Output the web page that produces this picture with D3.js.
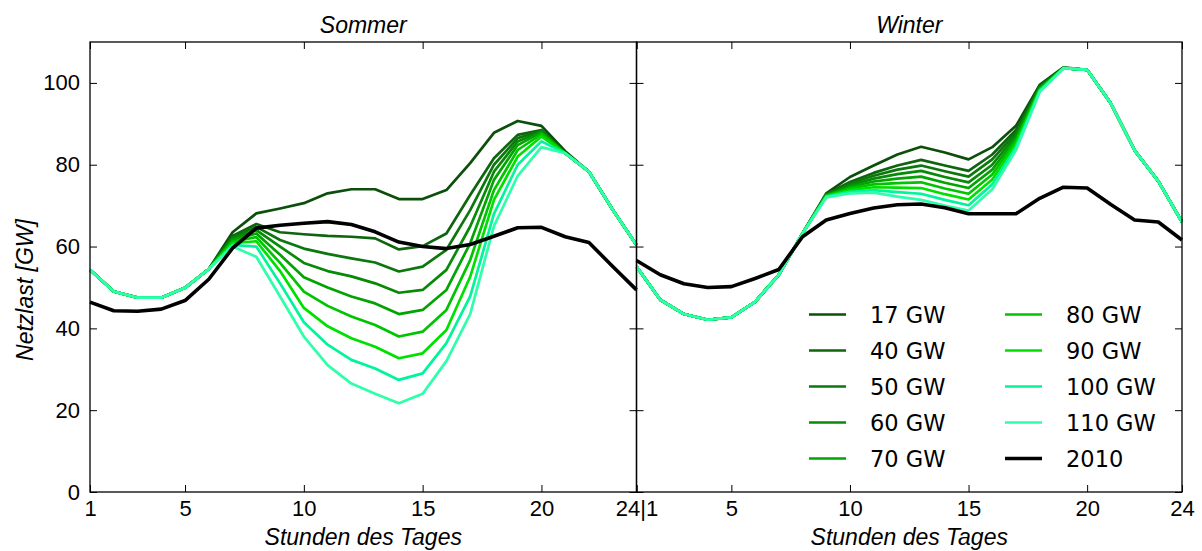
<!DOCTYPE html>
<html>
<head>
<meta charset="utf-8">
<script src="https://cdn.jsdelivr.net/npm/d3@7"></script>
<style>
  body { margin: 0; background: #fff; }
  svg { display: block; }
</style>
</head>
<body>
<div id="chart"></div>
<script>
// hours of the day
var hours = [1,2,3,4,5,6,7,8,9,10,11,12,13,14,15,16,17,18,19,20,21,22,23,24];
var xTicks = [1, 5, 10, 15, 20, 24];
var yTicks = [0, 20, 40, 60, 80, 100];

var seriesNames = ["17 GW", "40 GW", "50 GW", "60 GW", "70 GW", "80 GW", "90 GW", "100 GW", "110 GW"];
var seriesColors = ["#0b4f0b", "#0e650e", "#0c770c", "#078a07", "#03a303", "#00c400", "#00e000", "#00f59b", "#2dffaa"];

// Sommer
var sommer17  = [54.3,49,47.5,47.5,49.9,54.5,63.5,68.1,69.3,70.6,73,74,74,71.6,71.6,73.8,80.4,87.8,90.7,89.5,83.3,78.3,69,60.4];
var sommer40  = [54.3,49,47.5,47.5,49.9,54.5,62.6,65.5,63.5,63,62.6,62.4,62,59.3,60.1,63.2,72.6,81.6,87.3,88.5,82.8,78.3,69,60.4];
var sommer50  = [54.3,49,47.5,47.5,49.9,54.5,62.3,64.8,61.6,59.5,58.2,57.1,56.1,53.9,55.1,59.2,68.9,80,86.5,88.3,82.8,78.3,69,60.4];
var sommer60  = [54.3,49,47.5,47.5,49.9,54.5,62,64,60,56,54,52.7,51,48.7,49.4,54.3,64.9,78.3,85.7,88.1,82.8,78.3,69,60.4];
var sommer70  = [54.3,49,47.5,47.5,49.9,54.5,61.6,63.2,58,52.5,50,47.8,46.1,43.5,44.5,49.4,60.8,76.3,84.8,87.9,82.8,78.3,69,60.4];
var sommer80  = [54.3,49,47.5,47.5,49.9,54.5,61.2,62.3,56,49,45.5,42.9,40.8,38,39.2,44.5,56.7,73.8,83.6,87.5,82.8,78.3,69,60.4];
var sommer90  = [54.3,49,47.5,47.5,49.9,54.5,60.8,61.3,54,45,40.5,37.6,35.5,32.7,33.9,39.6,52.6,71.4,82,86.9,82.8,78.3,69,60.4];
var sommer100 = [54.3,49,47.5,47.5,49.9,54.5,60.4,60,51,41.5,36,32.3,30.2,27.4,29,36.4,47.8,68,80,85.7,82.8,78.3,69,60.4];
var sommer110 = [54.3,49,47.5,47.5,49.9,54.5,60,57.5,47.8,38,31,26.5,24,21.7,24,32,43.5,65,77.3,84.3,82.8,78.3,69,60.4];
var sommer2010 = [46.4,44.3,44.2,44.7,46.8,52,59.6,64.5,65.2,65.7,66.1,65.4,63.6,61.1,60,59.5,60.5,62.5,64.6,64.7,62.4,61,55.1,49.4];

// Winter
var winter17  = [55.1,47,43.5,42.1,42.7,46.5,53.1,63.2,73,77,79.8,82.5,84.4,83,81.3,84.3,89.5,99.5,103.8,103.2,95,83.5,76,66];
var winter40  = [55.1,47,43.5,42.1,42.7,46.5,53.1,63.2,72.8,75.8,78,79.8,81.2,79.8,78.5,82.5,88.5,99.2,103.6,103.2,95,83.5,76,66];
var winter50  = [55.1,47,43.5,42.1,42.7,46.5,53.1,63.2,72.7,75.4,77.3,78.8,79.8,78.4,77.1,81.3,87.8,99,103.6,103.2,95,83.5,76,66];
var winter60  = [55.1,47,43.5,42.1,42.7,46.5,53.1,63.2,72.6,75,76.6,77.7,78.5,77,75.7,80,87.1,98.8,103.6,103.2,95,83.5,76,66];
var winter70  = [55.1,47,43.5,42.1,42.7,46.5,53.1,63.2,72.5,74.6,75.9,76.6,77.1,75.6,74.3,78.8,86.4,98.6,103.6,103.2,95,83.5,76,66];
var winter80  = [55.1,47,43.5,42.1,42.7,46.5,53.1,63.2,72.4,74.2,75.2,75.5,75.7,74.2,72.9,77.6,85.7,98.4,103.6,103.2,95,83.5,76,66];
var winter90  = [55.1,47,43.5,42.1,42.7,46.5,53.1,63.2,72.3,73.8,74.5,74.4,74.3,72.8,71.5,76.4,85,98.2,103.6,103.2,95,83.5,76,66];
var winter100 = [55.1,47,43.5,42.1,42.7,46.5,53.1,63.2,72.2,73.4,73.8,73.3,72.9,71.4,70.1,75.2,84.3,98,103.6,103.2,95,83.5,76,66];
var winter110 = [55.1,47,43.5,42.1,42.7,46.5,53.1,63.2,72,73,73.2,72.2,71.4,70,68.8,74,83.6,97.8,103.6,103.2,95,83.5,76,66];
var winter2010 = [56.6,53.1,50.9,50,50.2,52.2,54.4,62.4,66.5,68.1,69.4,70.2,70.4,69.5,68,68,68,71.8,74.5,74.3,70.3,66.5,66,61.6];

var sommerSeries = [sommer17, sommer40, sommer50, sommer60, sommer70, sommer80, sommer90, sommer100, sommer110];
var winterSeries = [winter17, winter40, winter50, winter60, winter70, winter80, winter90, winter100, winter110];

var width = 1202, height = 551;
var top_y = 42, bottom_y = 492;
var tickLen = 7;
var tickFont = '"Liberation Sans Narrow", "Liberation Sans", Arial, sans-serif';
var labelFont = '"Liberation Sans", Arial, sans-serif';

var svg = d3.select("#chart").append("svg")
    .attr("width", width)
    .attr("height", height)
    .style("background", "#fff");

var yScale = d3.scaleLinear().domain([0, 110]).range([bottom_y, top_y]);

function drawPanel(x0, x1, title, greens, black, firstPanel)
{
    var xScale = d3.scaleLinear().domain([1, 24]).range([x0, x1]);
    var g = svg.append("g");

    var line = d3.line()
        .x(function(d, i) { return xScale(hours[i]); })
        .y(function(d) { return yScale(d); });

    greens.forEach(function(s, i) {
        g.append("path")
            .attr("d", line(s))
            .attr("fill", "none")
            .attr("stroke", seriesColors[i])
            .attr("stroke-width", 2.7)
            .attr("stroke-linejoin", "round");
    });
    g.append("path")
        .attr("d", line(black))
        .attr("fill", "none")
        .attr("stroke", "#000")
        .attr("stroke-width", 3.6)
        .attr("stroke-linejoin", "round");

    // axes with inward ticks
    var xBottom = d3.axisBottom(xScale).tickValues(xTicks)
        .tickSizeInner(-tickLen).tickSizeOuter(0).tickPadding(8)
        .tickFormat(function(d) {
            if (firstPanel) return d === 24 ? "" : d;
            return d === 1 ? "24|1" : d;
        });
    var xTop = d3.axisTop(xScale).tickValues(xTicks)
        .tickSizeInner(-tickLen).tickSizeOuter(0).tickFormat("");
    var yLeft = d3.axisLeft(yScale).tickValues(yTicks)
        .tickSizeInner(-tickLen).tickSizeOuter(0).tickPadding(10)
        .tickFormat(firstPanel ? d3.format("d") : "");
    var yRight = d3.axisRight(yScale).tickValues(yTicks)
        .tickSizeInner(-tickLen).tickSizeOuter(0).tickFormat("");

    var axes = [
        g.append("g").attr("transform", "translate(0," + bottom_y + ")").call(xBottom),
        g.append("g").attr("transform", "translate(0," + top_y + ")").call(xTop),
        g.append("g").attr("transform", "translate(" + x0 + ",0)").call(yLeft),
        g.append("g").attr("transform", "translate(" + x1 + ",0)").call(yRight)
    ];
    axes.forEach(function(a) {
        a.select(".domain").remove();
        a.selectAll(".tick line").attr("stroke", "#000").attr("stroke-width", 1);
        a.selectAll("text")
            .attr("fill", "#000")
            .style("font-family", tickFont)
            .style("font-size", "22px");
    });

    g.append("rect")
        .attr("x", x0).attr("y", top_y)
        .attr("width", x1 - x0).attr("height", bottom_y - top_y)
        .attr("fill", "none")
        .attr("stroke", "#000")
        .attr("stroke-width", 1.3);

    g.append("text")
        .attr("x", (x0 + x1) / 2).attr("y", 33)
        .attr("text-anchor", "middle")
        .style("font-family", labelFont)
        .style("font-style", "italic")
        .style("font-size", "23px")
        .text(title);

    g.append("text")
        .attr("x", (x0 + x1) / 2).attr("y", 545)
        .attr("text-anchor", "middle")
        .style("font-family", labelFont)
        .style("font-style", "italic")
        .style("font-size", "23px")
        .text("Stunden des Tages");
}

drawPanel(90, 636.5, "Sommer", sommerSeries, sommer2010, true);
drawPanel(636.5, 1182, "Winter", winterSeries, winter2010, false);

svg.append("text")
    .attr("transform", "translate(33,290) rotate(-90)")
    .attr("text-anchor", "middle")
    .style("font-family", labelFont)
    .style("font-style", "italic")
    .style("font-size", "23px")
    .text("Netzlast [GW]");

// legend, two columns
var legendNames = seriesNames.concat(["2010"]);
var legendColors = seriesColors.concat(["#000"]);
var legend = svg.append("g");
legendNames.forEach(function(name, i) {
    var col = Math.floor(i / 5), row = i % 5;
    var lx = col === 0 ? 809 : 1005;
    var ly = 314.5 + row * 36;
    legend.append("line")
        .attr("x1", lx).attr("x2", lx + 37)
        .attr("y1", ly).attr("y2", ly)
        .attr("stroke", legendColors[i])
        .attr("stroke-width", name === "2010" ? 3.6 : 2.7);
    legend.append("text")
        .attr("x", lx + 61).attr("y", ly + 8.5)
        .style("font-family", '"DejaVu Sans", sans-serif')
        .style("font-size", "22.5px")
        .attr("fill", "#000")
        .text(name);
});
</script>
</body>
</html>
